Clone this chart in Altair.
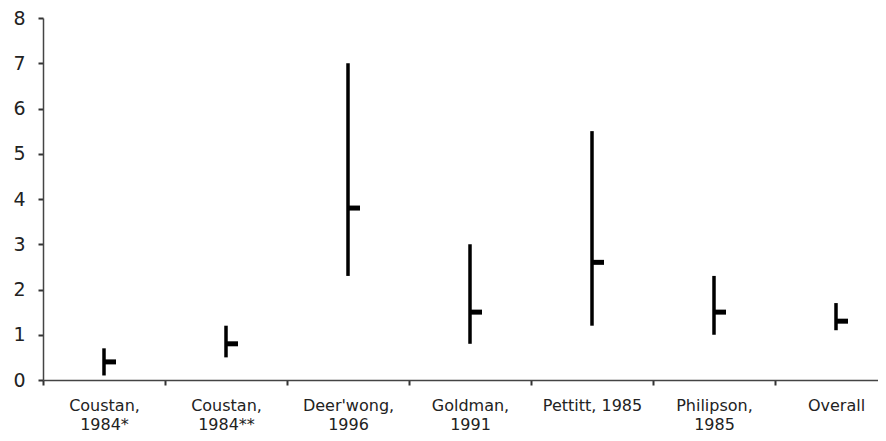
import altair as alt
import pandas as pd

studies = ["Coustan,\n1984*", "Coustan,\n1984**", "Deer'wong,\n1996", "Goldman,\n1991",
           "Pettitt, 1985", "Philipson,\n1985", "Overall"]
low = [0.1, 0.5, 2.3, 0.8, 1.2, 1.0, 1.1]
high = [0.7, 1.2, 7.0, 3.0, 5.5, 2.3, 1.7]
mean = [0.4, 0.8, 3.8, 1.5, 2.6, 1.5, 1.3]
y_ticks = [0, 1, 2, 3, 4, 5, 6, 7, 8]

df = pd.DataFrame({"study": studies, "low": low, "high": high, "mean": mean})

x = alt.X("study:N", sort=studies, title=None,
          scale=alt.Scale(range=[0, 854], paddingInner=0, paddingOuter=0),
          axis=alt.Axis(labelAngle=0, tickBand="extent", labelExpr="split(datum.label, '\\n')",
                        labelFontSize=16, labelFont="DejaVu Sans", labelColor="#222222",
                        labelLineHeight=19, labelPadding=12, tickSize=5, tickColor="#333333",
                        tickWidth=2, domainColor="#444444", domainWidth=1.5, labelLimit=300))

rules = alt.Chart(df).mark_rule(color="black", strokeWidth=3.5, strokeCap="butt").encode(
    x=x,
    y=alt.Y("low:Q", title=None, scale=alt.Scale(domain=[0, 8], nice=False),
            axis=alt.Axis(values=y_ticks, grid=False, labelFontSize=19, labelFont="DejaVu Sans",
                          labelColor="#222222", tickSize=5, tickWidth=2, tickColor="#333333",
                          domainColor="#444444", domainWidth=1.5, labelPadding=13)),
    y2="high:Q",
)

ticks = alt.Chart(df).mark_tick(color="black", opacity=1, size=12, thickness=5, xOffset=6).encode(
    x=x,
    y=alt.Y("mean:Q"),
)

chart = alt.layer(rules, ticks).properties(
    width=835, height=362,
    autosize=alt.AutoSizeParams(type="none"),
    padding={"left": 35, "top": 10, "right": 0, "bottom": 53},
).configure_view(stroke=None)

chart.save("out.html", embed_options={"renderer": "svg", "actions": False})
